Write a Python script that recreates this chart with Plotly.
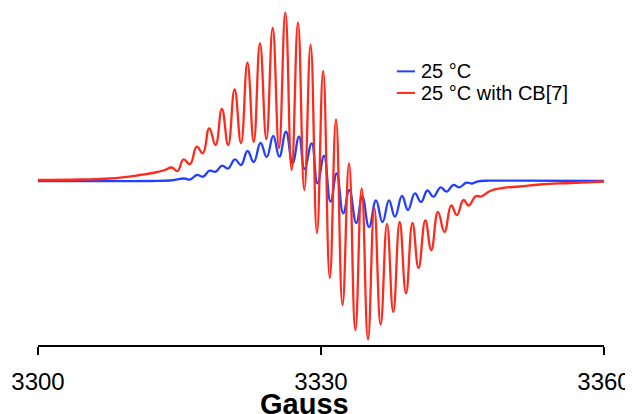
import plotly.graph_objects as go

# ---- data ----
blue_label = "25 °C"
red_label = "25 °C with CB[7]"

red_gauss = [3300.0, 3304.45, 3307.63, 3310.81, 3312.40, 3313.46, 3314.17, 3314.79, 3315.42, 3316.11,
             3316.83, 3317.47, 3318.15, 3318.82, 3319.49, 3320.16, 3320.84, 3321.52, 3322.20, 3322.87,
             3323.53, 3324.21, 3324.88, 3325.55, 3326.22, 3326.89, 3327.56, 3328.23, 3328.90, 3329.57,
             3330.23, 3330.93, 3331.59, 3332.28, 3332.97, 3333.64, 3334.31, 3334.98, 3335.65, 3336.32,
             3337.00, 3337.66, 3338.34, 3339.01, 3339.70, 3340.34, 3341.06, 3341.69, 3342.40, 3343.09,
             3343.81, 3344.40, 3345.11, 3345.64, 3346.43, 3346.96, 3347.92, 3349.29, 3351.10, 3353.22,
             3356.40, 3360.0]
red_signal = [1, 1.5, 2.5, 6, 8.5, 11, 13.5, 10, 21.5, 17,
              34.3, 27.7, 52.7, 36, 72, 36, 91.7, 37.7, 118.3, 39,
              137.7, 42, 153, 33, 168.3, 11, 158.3, -9, 136, -52,
              110, -97, 61.7, -124, 17.7, -149, -7.3, -158.3, -27, -143.5,
              -43, -131, -41, -112.3, -42, -87, -39.5, -69, -31, -51,
              -24.5, -34, -19, -24.5, -15, -15.5, -10, -7, -5.5, -3.5,
              -2, -0.5]

blue_gauss = [3300.0, 3311.87, 3313.99, 3315.48, 3316.11, 3316.86, 3317.49, 3318.18, 3318.82, 3319.51,
              3320.14, 3320.88, 3321.52, 3322.21, 3322.87, 3323.59, 3324.24, 3324.94, 3325.58, 3326.29,
              3326.98, 3327.67, 3328.25, 3329.01, 3329.63, 3330.32, 3331.01, 3331.66, 3332.36, 3333.00,
              3333.74, 3334.38, 3335.09, 3335.83, 3336.52, 3337.21, 3337.84, 3338.59, 3339.22, 3339.96,
              3340.60, 3341.29, 3341.91, 3342.69, 3343.31, 3344.03, 3344.66, 3345.42, 3346.01, 3346.64,
              3347.92, 3351.10, 3360.0]
blue_signal = [0, 0, 0.5, 2.5, 1.5, 6, 4.3, 10.3, 9.3, 15.3,
               12.5, 21.7, 16, 30, 19, 38, 24, 45, 24.3, 49.3,
               17.7, 44.3, 12, 37.7, -2.3, 25, -20.7, 7.5, -32.3, -9,
               -42, -15.7, -46, -19.5, -41, -19.5, -35.7, -15, -29, -12.3,
               -21, -9.5, -15.7, -6.3, -10.7, -4, -6.3, -1.7, -2.5, -0.3,
               0.3, 0.3, 0]

tick_vals = [3300, 3330, 3360]
tick_text = ["3300", "3330", "3360"]
x_title = "Gauss"

# ---- styles ----
BLUE = "#2440ff"
RED = "#ff2a1c"
FONT = "Arial, Liberation Sans, sans-serif"

fig = go.Figure()
fig.add_trace(go.Scatter(x=blue_gauss, y=blue_signal, mode="lines", name=blue_label,
                         line=dict(color=BLUE, width=2.3, shape="spline", smoothing=1.3),
                         showlegend=False))
fig.add_trace(go.Scatter(x=red_gauss, y=red_signal, mode="lines", name=red_label,
                         line=dict(color=RED, width=2.3, shape="spline", smoothing=1.3),
                         showlegend=False))

# custom legend (line sample + label)
for lab, col, yp in [(blue_label, BLUE, 0.812), (red_label, RED, 0.748)]:
    fig.add_shape(type="line", xref="paper", yref="paper",
                  x0=0.634, x1=0.666, y0=yp, y1=yp, line=dict(color=col, width=2))
    fig.add_annotation(xref="paper", yref="paper", x=0.674, y=yp, text=lab,
                       showarrow=False, xanchor="left", yanchor="middle",
                       font=dict(family=FONT, size=20, color="black"))

fig.add_annotation(xref="paper", yref="paper", x=0.470, y=0, yshift=-59,
                   text="<b>" + x_title + "</b>", showarrow=False,
                   xanchor="center", yanchor="middle",
                   font=dict(family=FONT, size=29, color="black"))

# figure sized so that it fits the 633x414 window with the page's 8 px body margin
fig.update_layout(
    width=625, height=406,
    margin=dict(l=30, r=29, t=0, b=69),
    paper_bgcolor="white", plot_bgcolor="white",
    xaxis=dict(range=[3300, 3360], tickvals=tick_vals, ticktext=tick_text,
               showline=True, linecolor="black", linewidth=2,
               ticks="outside", ticklen=8, tickwidth=2, tickcolor="black",
               showgrid=False, zeroline=False,
               tickfont=dict(family=FONT, size=24, color="black"),
               ticklabelstandoff=6),
    yaxis=dict(range=[-164, 173], visible=False, showgrid=False, zeroline=False),
    showlegend=False,
)

# hide page scrollbars (body margin would otherwise make the page overflow the window)
fig.write_html("out.html",
               post_script="document.documentElement.style.overflow='hidden';"
                           "document.body.style.overflow='hidden';")
